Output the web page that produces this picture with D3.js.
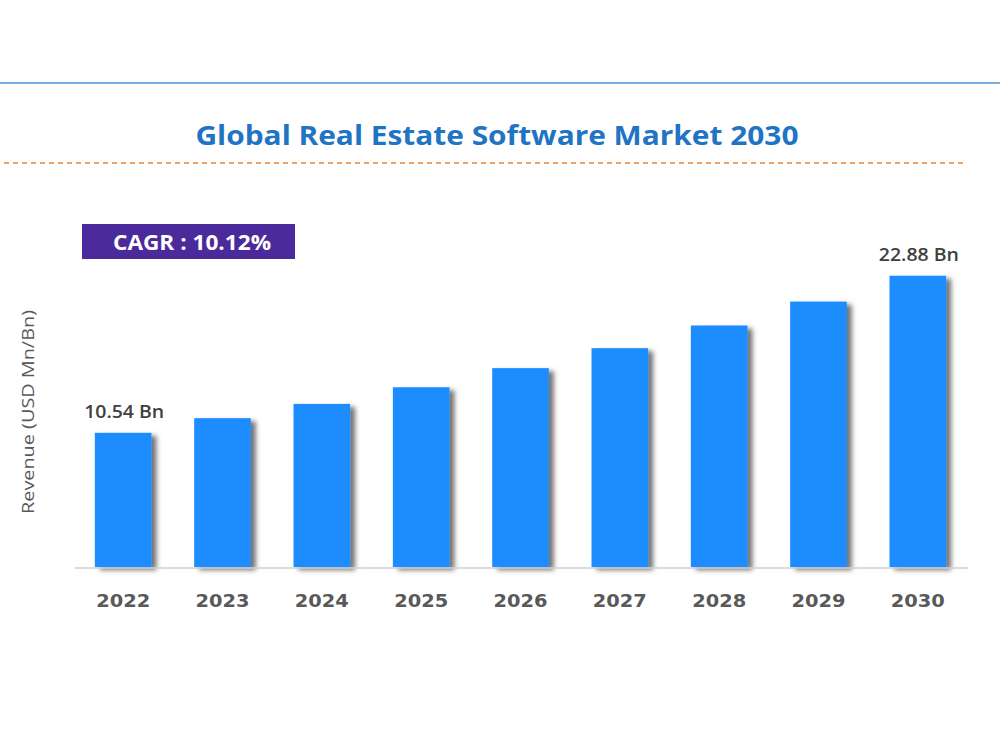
<!DOCTYPE html>
<html>
<head>
<meta charset="utf-8">
<script src="https://cdn.jsdelivr.net/npm/d3@7"></script>
<style>
  body { margin: 0; background: #fff; }
  #canvas { width: 1000px; height: 750px; }
</style>
</head>
<body>
<div id="canvas"></div>
<script>
"use strict";

/* Data */
let years = ["2022", "2023", "2024", "2025", "2026", "2027", "2028", "2029", "2030"];
let revenue = [10.54, 11.69, 12.81, 14.12, 15.62, 17.19, 18.97, 20.85, 22.88]; // USD Bn
let labelledYears = ["2022", "2030"];
let labelTexts = ["10.54 Bn", "22.88 Bn"];
let chartTitle = "Global Real Estate Software Market 2030";
let cagrText = "CAGR : 10.12%";
let yTitle = "Revenue (USD Mn/Bn)";

/* Drawing config */
let svgWidth = 1000;
let svgHeight = 750;
let baseY = 567;

let svg = d3.select("#canvas")
  .append("svg")
  .attr("width", svgWidth)
  .attr("height", svgHeight);

/* Bar shadow filter */
let defs = svg.append("defs");
let shadow = defs.append("filter")
  .attr("id", "shadow")
  .attr("x", "-20%").attr("y", "-10%")
  .attr("width", "150%").attr("height", "130%");
shadow.append("feDropShadow")
  .attr("dx", 5)
  .attr("dy", 3)
  .attr("stdDeviation", 2.5)
  .attr("flood-color", "#000")
  .attr("flood-opacity", 0.55);

/* Top rule and title */
svg.append("line")
  .attr("x1", 0).attr("x2", svgWidth)
  .attr("y1", 83).attr("y2", 83)
  .attr("stroke", "#7aaedf")
  .attr("stroke-width", 2);

svg.append("text")
  .attr("x", 497)
  .attr("y", 145)
  .attr("text-anchor", "middle")
  .attr("font-family", "'Open Sans', sans-serif")
  .attr("font-weight", "bold")
  .attr("font-size", "26px")
  .attr("textLength", 603)
  .attr("lengthAdjust", "spacingAndGlyphs")
  .attr("fill", "#1f74c4")
  .text(chartTitle);

svg.append("line")
  .attr("x1", 4).attr("x2", 966)
  .attr("y1", 163).attr("y2", 163)
  .attr("stroke", "#f4a060")
  .attr("stroke-width", 2)
  .attr("stroke-dasharray", "5,4");

/* CAGR box */
svg.append("rect")
  .attr("x", 82).attr("y", 224)
  .attr("width", 213).attr("height", 35)
  .attr("fill", "#4b2a9b");

svg.append("text")
  .attr("x", 192)
  .attr("y", 250)
  .attr("text-anchor", "middle")
  .attr("font-family", "'Open Sans', sans-serif")
  .attr("font-weight", "bold")
  .attr("font-size", "21px")
  .attr("textLength", 158)
  .attr("lengthAdjust", "spacingAndGlyphs")
  .attr("fill", "#fff")
  .text(cagrText);

/* Scales */
let xScale = d3.scaleBand()
  .domain(years)
  .range([74, 967])
  .paddingInner(0.43)
  .paddingOuter(0.21);

let yScale = d3.scaleLinear()
  .domain([0, 25])
  .range([baseY, baseY - 25 * 12.73]);

/* Bars */
svg.append("g")
  .selectAll("rect")
  .data(years)
  .enter()
  .append("rect")
  .attr("x", d => xScale(d))
  .attr("y", (d, i) => yScale(revenue[i]))
  .attr("width", xScale.bandwidth())
  .attr("height", (d, i) => yScale(0) - yScale(revenue[i]))
  .attr("fill", "#1a8cff")
  .attr("filter", "url(#shadow)");

/* Baseline */
svg.append("line")
  .attr("x1", 75).attr("x2", 968)
  .attr("y1", baseY + 1).attr("y2", baseY + 1)
  .attr("stroke", "#d0d0d0")
  .attr("stroke-width", 1.5);

/* Year labels */
let xAxis = d3.axisBottom(xScale).tickSize(0).tickPadding(0);
let xAxisG = svg.append("g")
  .attr("transform", "translate(0," + (baseY + 40) + ")")
  .call(xAxis);
xAxisG.select(".domain").remove();
xAxisG.selectAll("text")
  .attr("dy", 0)
  .attr("font-family", "'DejaVu Sans', sans-serif")
  .attr("font-weight", "bold")
  .attr("font-size", "18px")
  .attr("textLength", 54)
  .attr("lengthAdjust", "spacingAndGlyphs")
  .attr("fill", "#595959");

/* Value labels */
labelledYears.forEach((yr, i) => {
  let idx = years.indexOf(yr);
  svg.append("text")
    .attr("x", xScale(yr) + xScale.bandwidth() / 2 + 1)
    .attr("y", yScale(revenue[idx]) - 15)
    .attr("text-anchor", "middle")
    .attr("font-family", "'Open Sans', sans-serif")
    .attr("font-weight", "600")
    .attr("font-size", "18px")
    .attr("textLength", 80)
    .attr("lengthAdjust", "spacingAndGlyphs")
    .attr("fill", "#404040")
    .text(labelTexts[i]);
});

/* Y axis title */
svg.append("text")
  .attr("transform", "translate(34,412) rotate(-90)")
  .attr("text-anchor", "middle")
  .attr("font-family", "'Open Sans', sans-serif")
  .attr("font-size", "17px")
  .attr("textLength", 204)
  .attr("lengthAdjust", "spacingAndGlyphs")
  .attr("fill", "#595959")
  .text(yTitle);
</script>
</body>
</html>
